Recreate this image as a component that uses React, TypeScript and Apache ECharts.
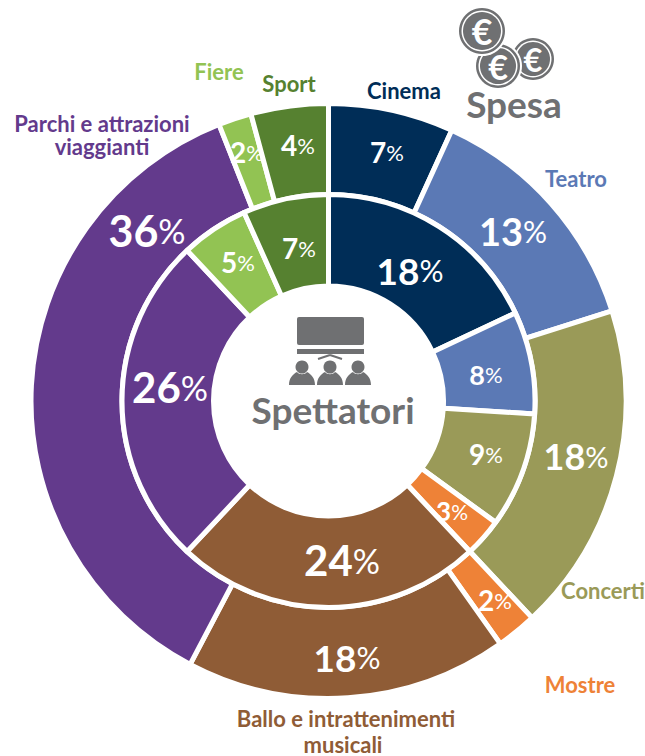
import React, { useEffect, useRef } from "react";
import * as echarts from "echarts";

const categories = ["Cinema", "Teatro", "Concerti", "Mostre", "Ballo e intrattenimenti musicali", "Parchi e attrazioni viaggianti", "Fiere", "Sport"];
const spesa = [6.8, 13.3, 17.9, 2.2, 17.5, 36.3, 1.8, 4.2];
const spettatori = [18, 8, 9, 3, 24, 26, 5.3, 6.7];
const colors = ["#002d57", "#5b79b5", "#9a9a58", "#ee8237", "#8f5c36", "#633a8c", "#92c353", "#568130"];
const spesaSizes = [28, 38, 36, 28, 37, 43, 28, 28];
const spettatoriSizes = [37, 27, 28, 26, 42, 42, 28, 28];
const spesaLabelAt = [[387, 152], [513, 231], [576, 456], [495, 600], [347, 657], [147, 230], [247, 152], [298, 145]];
const spettatoriLabelAt = [[410, 270], [486, 374], [486, 454], [452, 511], [342, 560], [170, 387], [238, 262], [299, 248]];
const GREY = "#6f7072";
const FONT = "Lato, Carlito, sans-serif";

const bodyPath = "M0 13 C0 6 4 2 8 0 C10 3 16 3 18 0 C22 2 26 6 26 13 Z";
echarts.graphic.registerShape("personBody", echarts.graphic.extendPath(bodyPath, {} as any));

function categoryLabel(text: string, x: number, y: number, fill: string) {
  return { type: "text", x, y, style: { text, fill, font: `bold 22px ${FONT}`, lineHeight: 23, textAlign: "center", textVerticalAlign: "middle" }, z: 10 };
}

function coin(cx: number, cy: number, r: number) {
  return [
    { type: "circle", shape: { cx, cy, r: r + 2 }, style: { fill: "#ffffff" }, z: 10 },
    { type: "circle", shape: { cx, cy, r }, style: { fill: GREY }, z: 10 },
    { type: "circle", shape: { cx, cy, r: r - 2.5 }, style: { fill: "#ffffff" }, z: 10 },
    { type: "circle", shape: { cx, cy, r: r - 4 }, style: { fill: GREY }, z: 10 },
    { type: "text", x: cx, y: cy, style: { text: "€", fill: "#ffffff", font: `bold ${r * 1.55}px ${FONT}`, lineHeight: r * 1.5, textAlign: "center", textVerticalAlign: "middle" }, z: 10 },
  ];
}

function person(cx: number) {
  return [
    { type: "circle", shape: { cx, cy: 367, r: 6.5 }, style: { fill: GREY }, z: 10 },
    { type: "personBody", x: cx - 13, y: 372, style: { fill: GREY }, z: 10 },
  ];
}

function ring(name: string, data: number[], sizes: number[], at: number[][], radius: [number, number]) {
  return {
    type: "pie",
    name,
    startAngle: 90,
    clockwise: true,
    center: [328.5, 401],
    radius,
    silent: true,
    avoidLabelOverlap: false,
    data: data.map((value, i) => ({
      name: categories[i],
      value,
      itemStyle: { color: colors[i] },
      label: {
        formatter: `{n|${Math.round(value)}}{p|%}`,
        rich: {
          n: { fontFamily: FONT, fontWeight: "bold", fontSize: sizes[i], color: "#ffffff" },
          p: { fontFamily: FONT, fontWeight: "normal", fontSize: Math.round(sizes[i] * 0.8), color: "#ffffff" },
        },
      },
    })),
    label: { show: true, position: "inside" },
    labelLine: { show: false },
    labelLayout: (p: any) => ({ x: at[p.dataIndex][0], y: at[p.dataIndex][1], hideOverlap: false }),
    itemStyle: { borderColor: "#ffffff", borderWidth: 5 },
    emphasis: { disabled: true },
  };
}

export default function App() {
  const ref = useRef<HTMLDivElement>(null);
  useEffect(() => {
    const chart = echarts.init(ref.current!, null, { renderer: "svg" });
    chart.setOption({
      animation: false,
      backgroundColor: "#ffffff",
      series: [
        ring("Spesa", spesa, spesaSizes, spesaLabelAt, [206.5, 297.5]),
        ring("Spettatori", spettatori, spettatoriSizes, spettatoriLabelAt, [115, 206.5]),
      ],
      graphic: [
        categoryLabel("Cinema", 404, 90, colors[0]),
        categoryLabel("Teatro", 576, 178, colors[1]),
        categoryLabel("Concerti", 603, 590, colors[2]),
        categoryLabel("Mostre", 580, 684, colors[3]),
        categoryLabel("Ballo e intrattenimenti", 346, 718, colors[4]),
        categoryLabel("musicali", 343, 744, colors[4]),
        categoryLabel("Parchi e attrazioni\nviaggianti", 102, 134.5, colors[5]),
        categoryLabel("Fiere", 219, 71, colors[6]),
        categoryLabel("Sport", 289, 83, colors[7]),
        ...coin(533, 59, 21),
        ...coin(498, 66, 22),
        ...coin(482, 31, 23),
        { type: "text", x: 514, y: 103, style: { text: "Spesa", fill: GREY, font: `bold 37px ${FONT}`, lineHeight: 34, textAlign: "center", textVerticalAlign: "middle" }, z: 10 },
        { type: "rect", shape: { x: 297, y: 317, width: 67, height: 28, r: 2 }, style: { fill: GREY }, z: 10 },
        { type: "rect", shape: { x: 297, y: 349, width: 67, height: 5 }, style: { fill: GREY }, z: 10 },
        { type: "line", shape: { x1: 330, y1: 355, x2: 318, y2: 359 }, style: { stroke: GREY, lineWidth: 2 }, z: 10 },
        { type: "line", shape: { x1: 330, y1: 355, x2: 342, y2: 359 }, style: { stroke: GREY, lineWidth: 2 }, z: 10 },
        ...person(302),
        ...person(330),
        ...person(358),
        { type: "text", x: 333, y: 409, style: { text: "Spettatori", fill: GREY, font: `bold 37px ${FONT}`, textAlign: "center", textVerticalAlign: "middle" }, z: 10 },
      ],
    });
    return () => chart.dispose();
  }, []);
  return <div ref={ref} style={{ position: "fixed", left: 0, top: 0, width: 645, height: 756 }} />;
}
